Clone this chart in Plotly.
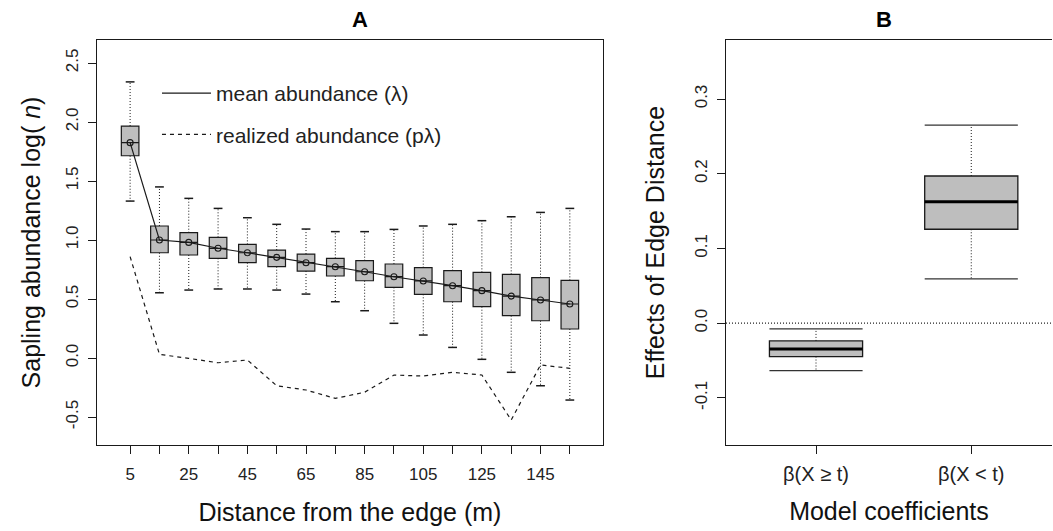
import plotly.graph_objects as go

# ---------------- Panel A data ----------------
distance = [5, 15, 25, 35, 45, 55, 65, 75, 85, 95, 105, 115, 125, 135, 145, 155]
dist_ticktext = ["5", "", "25", "", "45", "", "65", "", "85", "", "105", "", "125", "", "145", ""]
q1_A = [1.714, 0.892, 0.873, 0.845, 0.808, 0.774, 0.737, 0.695, 0.655, 0.599, 0.540, 0.477, 0.435, 0.359, 0.316, 0.246]
mean_A = [1.825, 1.000, 0.980, 0.930, 0.892, 0.853, 0.808, 0.774, 0.731, 0.689, 0.653, 0.613, 0.571, 0.525, 0.492, 0.458]
q3_A = [1.966, 1.119, 1.062, 1.023, 0.963, 0.915, 0.881, 0.845, 0.825, 0.797, 0.766, 0.740, 0.726, 0.709, 0.681, 0.658]
lo_A = [1.330, 0.553, 0.576, 0.585, 0.585, 0.576, 0.542, 0.477, 0.401, 0.294, 0.195, 0.090, -0.011, -0.121, -0.235, -0.356]
hi_A = [2.340, 1.450, 1.353, 1.268, 1.189, 1.133, 1.093, 1.071, 1.071, 1.090, 1.119, 1.133, 1.164, 1.197, 1.234, 1.268]
realized_A = [0.859, 0.031, -0.003, -0.040, -0.017, -0.235, -0.271, -0.342, -0.290, -0.144, -0.153, -0.121, -0.144, -0.525, -0.059, -0.087]
yticks_A = [-0.5, 0.0, 0.5, 1.0, 1.5, 2.0, 2.5]
yticktext_A = ["-0.5", "0.0", "0.5", "1.0", "1.5", "2.0", "2.5"]

# ---------------- Panel B data ----------------
coef_pos = [1, 2]
coef_labels = ["β(X ≥ t)", "β(X &lt; t)"]
q1_B = [-0.0446, 0.1257]
med_B = [-0.0344, 0.1626]
q3_B = [-0.0237, 0.1970]
lo_B = [-0.0634, 0.0592]
hi_B = [-0.0076, 0.2650]
yticks_B = [-0.1, 0.0, 0.1, 0.2, 0.3]
yticktext_B = ["-0.1", "0.0", "0.1", "0.2", "0.3"]

FONT = "Liberation Sans, Arial, sans-serif"
FILL = "#bebebe"
INK = "#1a1a1a"
BOXW_A = 6.0
BOXW_B = 0.6

fig = go.Figure()

# ---- Panel A boxes ----
fig.add_trace(go.Box(
    x=distance, q1=q1_A, median=mean_A, q3=q3_A,
    lowerfence=q1_A, upperfence=q3_A,
    width=BOXW_A, fillcolor=FILL, line=dict(color=INK, width=1.2),
    boxpoints=False, showlegend=False, hoverinfo="skip",
    xaxis="x", yaxis="y"))

# whiskers (dotted) and caps
wx, wy, cx, cy = [], [], [], []
for d, a, b, lo, hi in zip(distance, q1_A, q3_A, lo_A, hi_A):
    wx += [d, d, None, d, d, None]
    wy += [b, hi, None, a, lo, None]
    cx += [d - BOXW_A / 4, d + BOXW_A / 4, None, d - BOXW_A / 4, d + BOXW_A / 4, None]
    cy += [hi, hi, None, lo, lo, None]
fig.add_trace(go.Scatter(x=wx, y=wy, mode="lines", line=dict(color=INK, width=1, dash="1px,2px"),
                         showlegend=False, hoverinfo="skip", xaxis="x", yaxis="y"))
fig.add_trace(go.Scatter(x=cx, y=cy, mode="lines", line=dict(color=INK, width=1.5),
                         showlegend=False, hoverinfo="skip", xaxis="x", yaxis="y"))

# mean line (legend entry) + points
fig.add_trace(go.Scatter(
    x=distance, y=mean_A, mode="lines", name="mean abundance (λ)",
    line=dict(color=INK, width=1.2), legendgroup="g1", xaxis="x", yaxis="y"))
fig.add_trace(go.Scatter(
    x=distance, y=mean_A, mode="markers", showlegend=False, hoverinfo="skip",
    marker=dict(symbol="circle-open", size=6, color=INK, line=dict(width=1.1)),
    legendgroup="g1", xaxis="x", yaxis="y"))
# realized dashed line
fig.add_trace(go.Scatter(
    x=distance, y=realized_A, mode="lines", name="realized abundance (pλ)",
    line=dict(color=INK, width=1.2, dash="4px,4px"),
    legendgroup="g2", xaxis="x", yaxis="y"))

# ---- Panel B ----
fig.add_trace(go.Box(
    x=coef_pos, q1=q1_B, median=med_B, q3=q3_B,
    lowerfence=q1_B, upperfence=q3_B,
    width=BOXW_B, fillcolor=FILL, line=dict(color=INK, width=1.3),
    boxpoints=False, showlegend=False, hoverinfo="skip",
    xaxis="x2", yaxis="y2"))
bwx, bwy, bcx, bcy, mx, my = [], [], [], [], [], []
for p, a, m, b, lo, hi in zip(coef_pos, q1_B, med_B, q3_B, lo_B, hi_B):
    bwx += [p, p, None, p, p, None]
    bwy += [b, hi, None, a, lo, None]
    bcx += [p - BOXW_B / 2, p + BOXW_B / 2, None, p - BOXW_B / 2, p + BOXW_B / 2, None]
    bcy += [hi, hi, None, lo, lo, None]
    mx += [p - BOXW_B / 2, p + BOXW_B / 2, None]
    my += [m, m, None]
fig.add_trace(go.Scatter(x=bwx, y=bwy, mode="lines", line=dict(color=INK, width=1, dash="1px,2px"),
                         showlegend=False, hoverinfo="skip", xaxis="x2", yaxis="y2"))
fig.add_trace(go.Scatter(x=bcx, y=bcy, mode="lines", line=dict(color="#333", width=1.3),
                         showlegend=False, hoverinfo="skip", xaxis="x2", yaxis="y2"))
fig.add_trace(go.Scatter(x=mx, y=my, mode="lines", line=dict(color="#000", width=3),
                         showlegend=False, hoverinfo="skip", xaxis="x2", yaxis="y2"))

axis_common = dict(showgrid=False, zeroline=False, showline=True, linecolor=INK, linewidth=1.3,
                   ticks="outside", ticklen=8, tickwidth=1.1, tickcolor=INK)
TICK_FONT = dict(family=FONT, size=17, color="#222")
TITLE_FONT = dict(family=FONT, size=25, color="#111")

fig.update_layout(
    width=1053, height=531,
    margin=dict(l=97, r=1, t=40, b=86),
    plot_bgcolor="white", paper_bgcolor="white",
    font=dict(family=FONT, color="#111"),
    xaxis=dict(domain=[0, 0.5298], range=[-6.3, 166.3], tickvals=distance, ticktext=dist_ticktext,
               mirror=True, ticklabelstandoff=5, tickfont=TICK_FONT,
               title=dict(text="Distance from the edge (m)", font=TITLE_FONT, standoff=20),
               **axis_common),
    yaxis=dict(range=[-0.737, 2.695], tickvals=yticks_A, ticktext=yticktext_A,
               tickangle=-90, mirror=True, ticklabelstandoff=3, tickfont=TICK_FONT,
               title=dict(text="Sapling abundance log( <i>n</i>)", font=TITLE_FONT, standoff=15),
               **axis_common),
    xaxis2=dict(domain=[0.6586, 1.0], range=[0.42, 2.52], tickvals=coef_pos, ticktext=coef_labels,
                mirror=True, anchor="y2", ticklabelstandoff=3,
                tickfont=dict(family=FONT, size=20, color="#222"),
                title=dict(text="Model coefficients", font=TITLE_FONT, standoff=18),
                **axis_common),
    yaxis2=dict(range=[-0.163, 0.379], tickvals=yticks_B, ticktext=yticktext_B,
                tickangle=-90, anchor="x2", ticklabelstandoff=3, tickfont=TICK_FONT,
                title=dict(text="Effects of Edge Distance", font=TITLE_FONT, standoff=20),
                **axis_common),
    legend=dict(x=0.0628, y=0.9185, xanchor="left", yanchor="top", bgcolor="rgba(0,0,0,0)",
                font=dict(family=FONT, size=21, color="#222"), tracegroupgap=11, itemwidth=49),
    shapes=[dict(type="line", xref="x2 domain", yref="y2", x0=0, x1=1, y0=0, y1=0,
                 line=dict(color=INK, width=1.2, dash="1px,2px"), layer="below")],
    annotations=[
        dict(text="<b>A</b>", x=0.2649, y=1.0494, xref="paper", yref="paper", showarrow=False,
             yanchor="middle", font=dict(size=22, family=FONT, color="#000")),
        dict(text="<b>B</b>", x=0.8346, y=1.0494, xref="paper", yref="paper", showarrow=False,
             yanchor="middle", font=dict(size=22, family=FONT, color="#000")),
    ],
)

fig.write_html("out.html")
